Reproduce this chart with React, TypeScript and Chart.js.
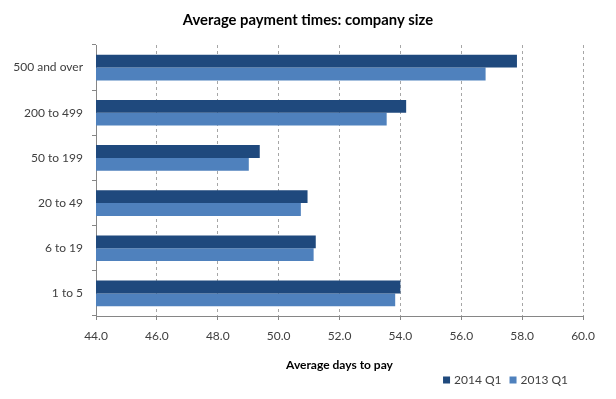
import React, { useEffect, useRef } from "react";
import { Chart, registerables } from "chart.js";

Chart.register(...registerables);

const categories = ["500 and over", "200 to 499", "50 to 199", "20 to 49", "6 to 19", "1 to 5"];
const series2014 = [57.83, 54.19, 49.38, 50.95, 51.22, 54.0];
const series2013 = [56.8, 53.55, 49.02, 50.73, 51.15, 53.83];
const seriesLabels = ["2014 Q1", "2013 Q1"];
const seriesColors = ["#1F497D", "#4F81BD"];
const xMin = 44;
const xMax = 60;
const xStep = 2;

const FONT = "Lato, 'Liberation Sans', sans-serif";

const customLegend = {
  id: "customLegend",
  afterDraw(chart: any) {
    const ctx = chart.ctx;
    const ds = chart.data.datasets;
    ctx.save();
    ctx.font = `12px ${FONT}`;
    ctx.textBaseline = "middle";
    ctx.textAlign = "left";
    const box = 7;
    const gap = 4;
    const itemGap = 8;
    const widths = ds.map((d: any) => box + gap + ctx.measureText(d.label).width);
    const total = widths.reduce((a: number, b: number) => a + b, 0) + itemGap * (ds.length - 1);
    let x = 568 - total;
    const yc = 380;
    ds.forEach((d: any, i: number) => {
      ctx.fillStyle = d.backgroundColor;
      ctx.fillRect(x, yc - box / 2, box, box);
      ctx.fillStyle = "#404040";
      ctx.fillText(d.label, x + box + gap, yc + 0.5);
      x += widths[i] + itemGap;
    });
    ctx.restore();
  },
};

export default function App() {
  const ref = useRef<HTMLCanvasElement | null>(null);
  useEffect(() => {
    const canvas = ref.current;
    if (!canvas) return;
    const chart = new Chart(canvas, {
      type: "bar",
      data: {
        labels: categories,
        datasets: [
          {
            label: seriesLabels[0],
            data: series2014,
            backgroundColor: seriesColors[0],
            borderWidth: 0,
            barPercentage: 1,
            categoryPercentage: 0.57,
          },
          {
            label: seriesLabels[1],
            data: series2013,
            backgroundColor: seriesColors[1],
            borderWidth: 0,
            barPercentage: 1,
            categoryPercentage: 0.57,
          },
        ],
      },
      options: {
        indexAxis: "y",
        animation: false,
        responsive: false,
        maintainAspectRatio: false,
        layout: { padding: { left: 0, right: 0, top: 0, bottom: 0 } },
        plugins: {
          legend: { display: false },
          tooltip: { enabled: false },
          title: {
            display: true,
            text: "Average payment times: company size",
            color: "#000000",
            font: { family: FONT, size: 14.8, weight: "bold" },
            padding: { top: 11, bottom: 16.24 },
          },
        },
        scales: {
          x: {
            type: "linear",
            min: xMin,
            max: xMax,
            ticks: {
              stepSize: xStep,
              color: "#404040",
              font: { family: FONT, size: 12 },
              padding: 9,
              callback: (v: any) => Number(v).toFixed(1),
            },
            grid: {
              color: "#A6A6A6",
              tickColor: "#868686",
              tickLength: 4,
              lineWidth: 1,
            },
            border: { display: true, color: "#868686", width: 1, dash: [3, 3] },
            title: {
              display: true,
              text: "Average days to pay",
              color: "#000000",
              font: { family: FONT, size: 12, weight: "bold" },
              padding: { top: 0, bottom: 26.8 },
            },
            afterFit: (scale: any) => {
              scale.height = 83;
            },
          },
          y: {
            type: "category",
            position: "left",
            ticks: {
              color: "#404040",
              font: { family: FONT, size: 12 },
              padding: 9,
            },
            grid: {
              drawOnChartArea: false,
              drawTicks: true,
              tickLength: 4,
              tickColor: "#868686",
              color: "#868686",
            },
            border: { display: true, color: "#868686", width: 1 },
            afterFit: (scale: any) => {
              scale.width = 96;
            },
          },
          yRightSpacer: {
            type: "category",
            position: "right",
            display: true,
            ticks: { display: false },
            grid: { display: false, drawTicks: false },
            border: { display: false },
            afterFit: (scale: any) => {
              scale.width = 33;
            },
          },
        },
      },
      plugins: [customLegend],
    } as any);
    return () => chart.destroy();
  }, []);
  return (
    <div style={{ position: "fixed", left: 0, top: 0, width: 616, height: 399, background: "#fff" }}>
      <canvas ref={ref} width={616} height={399} style={{ width: 616, height: 399, display: "block" }} />
    </div>
  );
}
